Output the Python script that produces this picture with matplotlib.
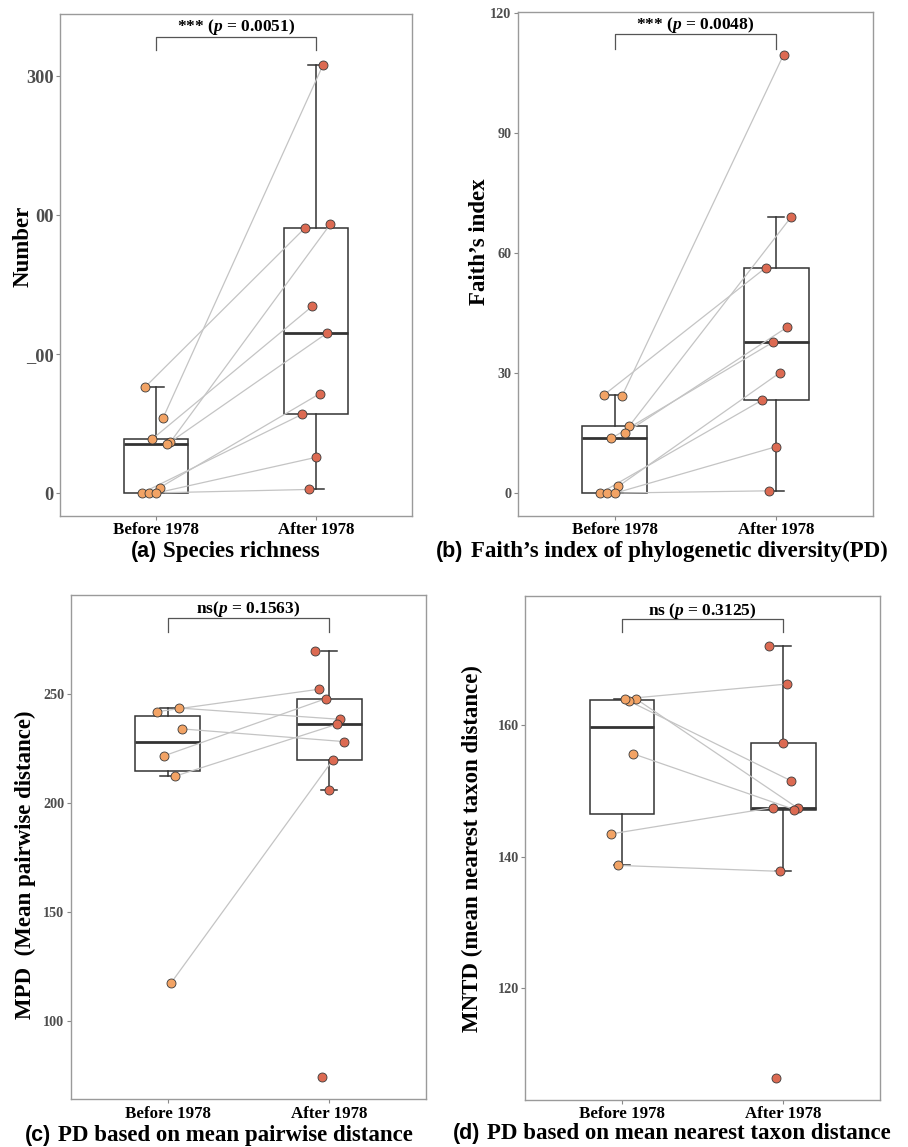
import matplotlib
matplotlib.use("Agg")
import matplotlib.pyplot as plt
import numpy as np

plt.rcParams['mathtext.fontset'] = 'custom'
plt.rcParams['mathtext.it'] = 'Liberation Serif:italic:bold'
plt.rcParams['mathtext.rm'] = 'Liberation Serif:bold'
plt.rcParams['mathtext.bf'] = 'Liberation Serif:bold'

groups = ["Before 1978", "After 1978"]

# ---- (a) Species richness (paired samples) ----
a_before = [76.5, 54, 39, 36.7, 35, 3.8, 0, 0, 0]
a_after = [191, 308, 134.5, 193.5, 115, 71.4, 56.6, 2.6, 25.7]
a_jitter = [-0.066, 0.044, -0.022, 0.09, 0.068, 0.022, -0.088, -0.044, 0.0]
a_after_extra = []
a_extra_jitter = []
a_yticks = [0, 100, 200, 300]
a_yticklabels = ["0", "_00", "00", "300"]
a_ylabel = "Number"
a_title = ("(a)", "Species richness")
a_test = "*** ($p$ = 0.0051)"

# ---- (b) Faith's PD ----
b_before = [24.3, 24.6, 16.8, 15.1, 13.7, 1.7, 0, 0, 0]
b_after = [109.7, 56.4, 69, 41.5, 37.75, 30.15, 23.25, 0.6, 11.65]
b_jitter = [0.045, -0.066, 0.09, 0.066, -0.022, 0.022, -0.09, -0.045, 0.0]
b_after_extra = []
b_extra_jitter = []
b_yticks = [0, 30, 60, 90, 120]
b_yticklabels = ["0", "30", "60", "90", "120"]
b_ylabel = "Faith\u2019s index"
b_title = ("(b)", "Faith\u2019s index of phylogenetic diversity(PD)")
b_test = "*** ($p$ = 0.0048)"

# ---- (c) MPD ----
c_before = [242.0, 243.7, 234.1, 221.8, 212.4, 117.7]
c_after = [252.3, 238.5, 228.3, 248.0, 236.2, 219.9]
c_jitter = [-0.065, 0.068, 0.09, -0.021, 0.045, 0.022]
c_after_extra = [269.7, 206.0, 74.3]
c_extra_jitter = [-0.087, 0.0, -0.043]
c_yticks = [100, 150, 200, 250]
c_yticklabels = ["100", "150", "200", "250"]
c_ylabel = "MPD  (Mean pairwise distance)"
c_title = ("(c)", "PD based on mean pairwise distance")
c_test = "ns($p$ = 0.1563)"

# ---- (d) MNTD ----
d_before = [164.0, 163.7, 164.06, 155.7, 143.5, 138.7]
d_after = [147.4, 151.6, 166.3, 147.2, 147.5, 137.8]
d_jitter = [0.09, 0.045, 0.022, 0.068, -0.066, -0.022]
d_after_extra = [172.1, 157.4, 106.3]
d_extra_jitter = [-0.091, 0.0, -0.048]
d_yticks = [120, 140, 160]
d_yticklabels = ["120", "140", "160"]
d_ylabel = "MNTD (mean nearest taxon distance)"
d_title = ("(d)", "PD based on mean nearest taxon distance")
d_test = "ns ($p$ = 0.3125)"

W, H = 908, 1147
fig = plt.figure(figsize=(W / 100, H / 100), dpi=100)

COL_BEFORE = "#F2A365"
COL_AFTER = "#DC6A52"
SERIF = "Liberation Serif"
SANS = "Liberation Sans"
MS = 42


def rect(l, t, r, b):
    return [l / W, 1 - b / H, (r - l) / W, (b - t) / H]


panels = [
    dict(rect=rect(60, 14, 412, 516), ylim=(-16.5, 344.6),
         before=a_before, after=a_after, jit=a_jitter, extra=a_after_extra, ejit=a_extra_jitter,
         yt=a_yticks, ytl=a_yticklabels, tfs=13.2, test=a_test, brk=(328.3, 318.7), ty=335.3,
         ylabel=a_ylabel, ylpos=(23, 246), title=a_title, tsplit=(157, 163, 557)),
    dict(rect=rect(517.7, 12.3, 873.3, 516), ylim=(-5.7, 120.3),
         before=b_before, after=b_after, jit=b_jitter, extra=b_after_extra, ejit=b_extra_jitter,
         yt=b_yticks, ytl=b_yticklabels, tfs=10.2, test=b_test, brk=(114.8, 111.2), ty=117.2,
         ylabel=b_ylabel, ylpos=(479, 242), title=b_title, tsplit=(463, 471, 557)),
    dict(rect=rect(70.7, 595.3, 426.3, 1099.3), ylim=(64.2, 295.4),
         before=c_before, after=c_after, jit=c_jitter, extra=c_after_extra, ejit=c_extra_jitter,
         yt=c_yticks, ytl=c_yticklabels, tfs=10.2, test=c_test, brk=(284.9, 278.7), ty=289.3,
         ylabel=c_ylabel, ylpos=(25, 865), title=c_title, tsplit=(51, 58, 1141)),
    dict(rect=rect(525, 596, 880.3, 1100), ylim=(103.0, 179.7),
         before=d_before, after=d_after, jit=d_jitter, extra=d_after_extra, ejit=d_extra_jitter,
         yt=d_yticks, ytl=d_yticklabels, tfs=10.2, test=d_test, brk=(176.2, 174.2), ty=177.4,
         ylabel=d_ylabel, ylpos=(472, 849), title=d_title, tsplit=(480, 487, 1139)),
]

for p in panels:
    ax = fig.add_axes(p["rect"])
    before = np.array(p["before"], float)
    after_all = np.array(list(p["after"]) + list(p["extra"]), float)
    ax.boxplot([before, after_all], positions=[1, 2], widths=0.4, whis=1.5,
               showfliers=False, patch_artist=True, capwidths=0.1,
               boxprops=dict(facecolor="white", edgecolor="#333333", linewidth=1.1),
               whiskerprops=dict(color="#333333", linewidth=1.1),
               capprops=dict(color="#333333", linewidth=1.1),
               medianprops=dict(color="#333333", linewidth=2.0), zorder=1)
    jit = np.array(p["jit"])
    for i in range(len(p["before"])):
        ax.plot([1 + jit[i], 2 + jit[i]], [p["before"][i], p["after"][i]],
                color="#c4c4c4", lw=0.9, zorder=2)
    ax.scatter(1 + jit, before, s=MS, color=COL_BEFORE, edgecolor="#3a3a3a",
               linewidth=0.6, zorder=3)
    ax.scatter(2 + jit, p["after"], s=MS, color=COL_AFTER, edgecolor="#3a3a3a",
               linewidth=0.6, zorder=3)
    if len(p["extra"]):
        ax.scatter(2 + np.array(p["ejit"]), p["extra"], s=MS, color=COL_AFTER,
                   edgecolor="#3a3a3a", linewidth=0.6, zorder=3)
    # significance bracket
    y1, y0 = p["brk"]
    ax.plot([1, 1, 2, 2], [y0, y1, y1, y0], color="#555555", lw=0.9, zorder=2)
    ax.text(1.5, p["ty"], p["test"], ha="center", va="center", fontsize=12.5,
            fontweight="bold", family=SERIF)

    ax.set_xlim(0.4, 2.6)
    ax.set_ylim(*p["ylim"])
    ax.set_xticks([1, 2])
    ax.set_xticklabels(groups, fontsize=12.2, fontweight="bold", family=SERIF, color="black")
    ax.set_yticks(p["yt"])
    ax.set_yticklabels(p["ytl"], fontsize=p["tfs"], fontweight="bold", family=SERIF,
                       color="#4d4d4d")
    ax.tick_params(axis="both", length=3, width=0.8, color="#888888", pad=1.5)
    for s in ax.spines.values():
        s.set_color("#9a9a9a")
        s.set_linewidth(1.0)

    fig.text(p["ylpos"][0] / W, 1 - p["ylpos"][1] / H, p["ylabel"], rotation=90,
             ha="center", va="center", fontsize=16.5, fontweight="bold", family=SERIF)
    xs, xr, ty = p["tsplit"]
    fig.text(xs / W, 1 - ty / H, p["title"][0], ha="right", va="baseline", fontsize=15.5,
             fontweight="bold", family=SANS)
    fig.text(xr / W, 1 - ty / H, p["title"][1], ha="left", va="baseline", fontsize=16.5,
             fontweight="bold", family=SERIF)

fig.savefig("out.png", dpi=100)
